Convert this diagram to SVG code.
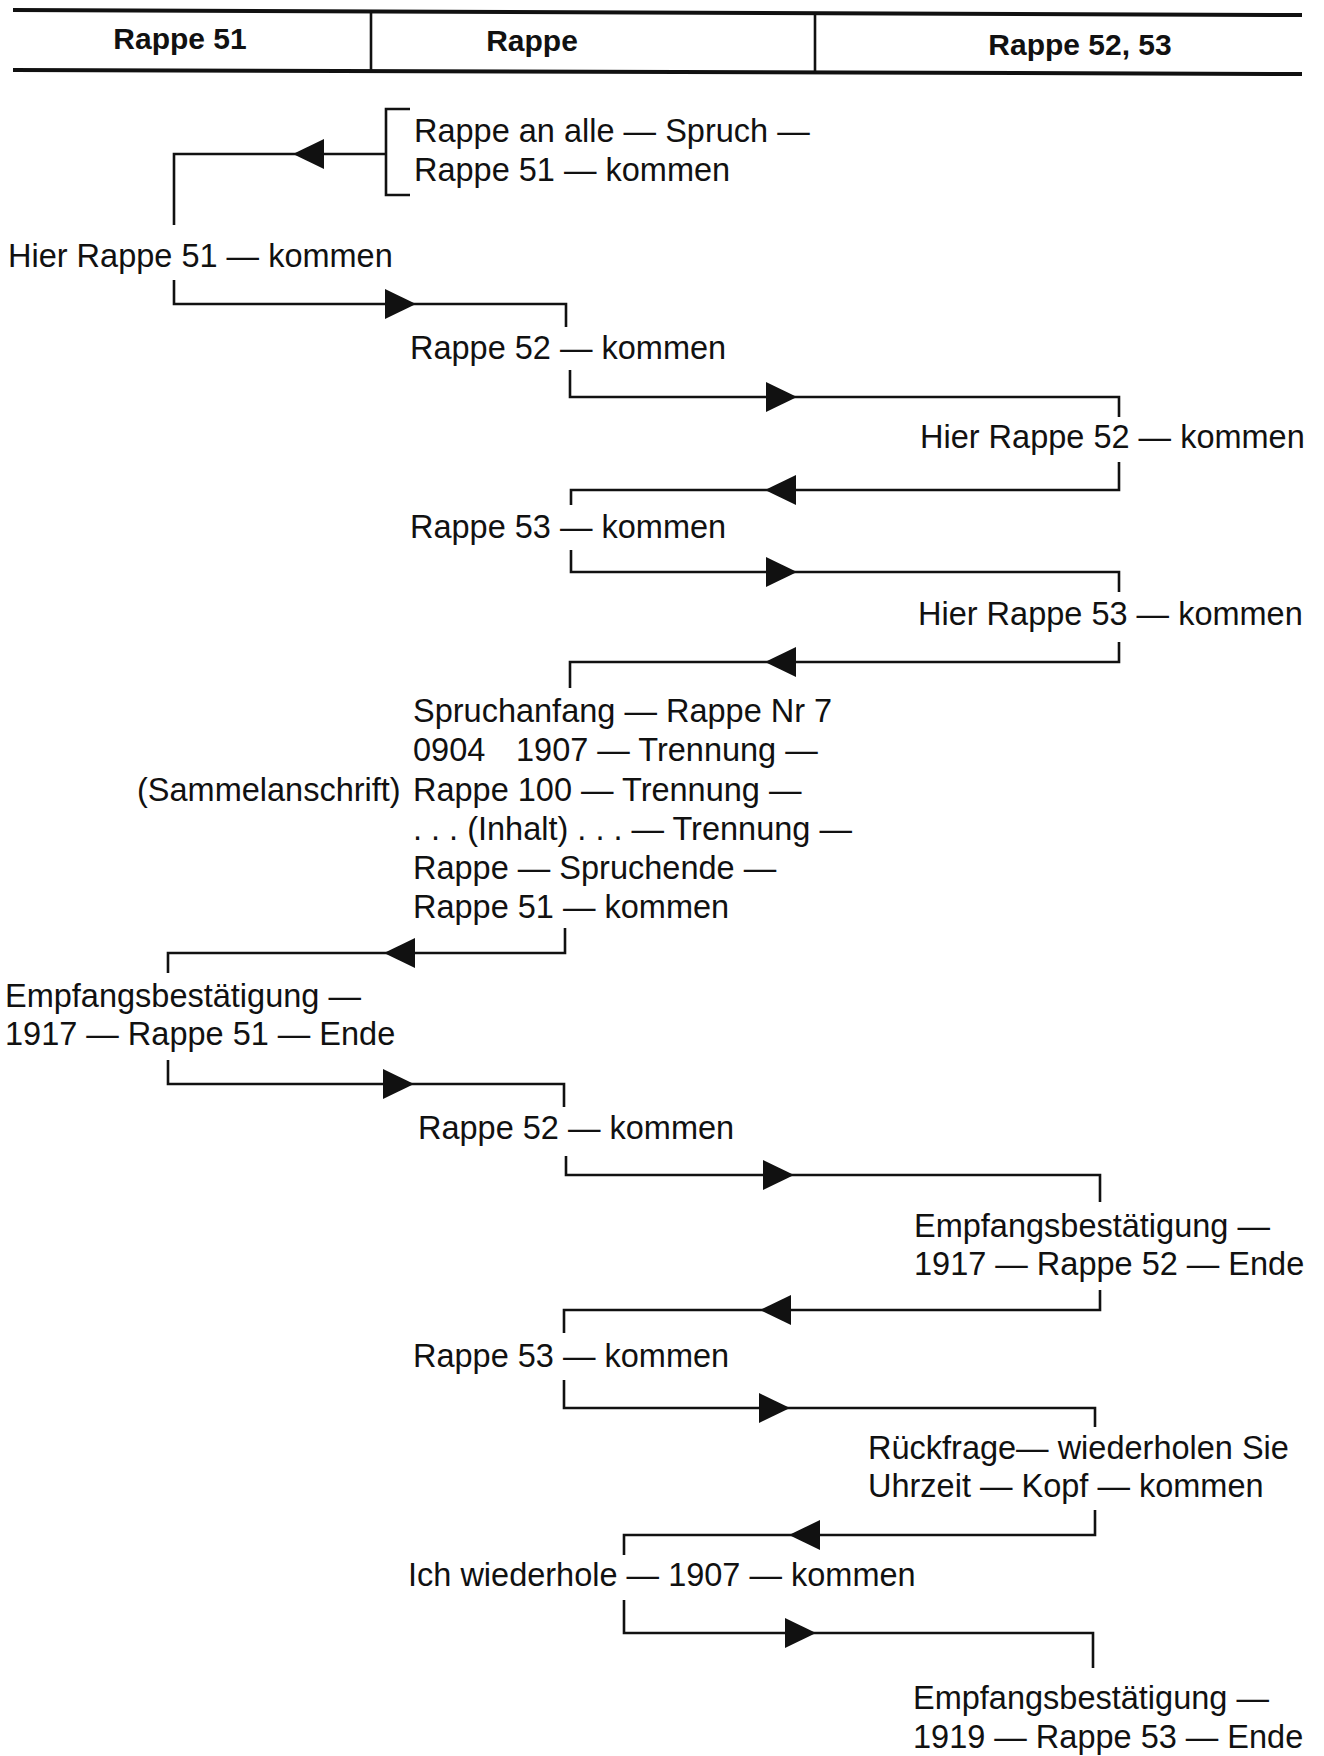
<svg xmlns="http://www.w3.org/2000/svg" xmlns:xlink="http://www.w3.org/1999/xlink" width="1324" height="1756" viewBox="0 0 1324 1756">
<style>
.t{font-family:"Liberation Sans",Arial,sans-serif;font-size:32.5px;fill:#111}
.h{font-family:"Liberation Sans",Arial,sans-serif;font-size:30px;font-weight:bold;fill:#111;text-anchor:middle}
.c{fill:none;stroke:#111;stroke-width:2.6}
.rule{stroke:#111;stroke-width:4}
.div{stroke:#111;stroke-width:2.6}
.ah{fill:#111}
</style>
<defs>
<path id="aR" d="M0,0 L-31,-15 L-31,15 Z"/>
<path id="aL" d="M0,0 L31,-15 L31,15 Z"/>
</defs>
<rect width="1324" height="1756" fill="#fff"/>
<g id="header">
<line class="rule" x1="13" y1="10" x2="1302" y2="15"/>
<line class="rule" x1="13" y1="70" x2="1302" y2="74"/>
<line class="div" x1="371" y1="11" x2="371" y2="71"/>
<line class="div" x1="815" y1="13" x2="815" y2="73"/>
<text class="h" x="180" y="49">Rappe 51</text>
<text class="h" x="532" y="51">Rappe</text>
<text class="h" x="1080" y="55">Rappe 52, 53</text>
</g>
<g id="connectors">
<path class="c" d="M410,109 H386 V195 H410"/>
<path class="c" d="M386,154 H174 V225"/>
<use class="ah" href="#aL" x="293" y="154"/>
<path class="c" d="M174,280 V304 H566 V327"/>
<use class="ah" href="#aR" x="416" y="304"/>
<path class="c" d="M570,370 V397 H1119 V417"/>
<use class="ah" href="#aR" x="797" y="397"/>
<path class="c" d="M1119,462 V490 H571 V505"/>
<use class="ah" href="#aL" x="765" y="490"/>
<path class="c" d="M571,550 V572 H1119 V592"/>
<use class="ah" href="#aR" x="797" y="572"/>
<path class="c" d="M1119,642 V662 H570 V688"/>
<use class="ah" href="#aL" x="765" y="662"/>
<path class="c" d="M565,928 V953 H168 V973"/>
<use class="ah" href="#aL" x="384" y="953"/>
<path class="c" d="M168,1060 V1084 H564 V1107"/>
<use class="ah" href="#aR" x="414" y="1084"/>
<path class="c" d="M566,1156 V1175 H1100 V1202"/>
<use class="ah" href="#aR" x="794" y="1175"/>
<path class="c" d="M1100,1290 V1310 H564 V1333"/>
<use class="ah" href="#aL" x="760" y="1310"/>
<path class="c" d="M564,1380 V1408 H1095 V1427"/>
<use class="ah" href="#aR" x="790" y="1408"/>
<path class="c" d="M1095,1510 V1535 H624 V1555"/>
<use class="ah" href="#aL" x="789" y="1535"/>
<path class="c" d="M624,1600 V1633 H1093 V1668"/>
<use class="ah" href="#aR" x="816" y="1633"/>
</g>
<g id="n1"><text class="t" x="414" y="142">Rappe an alle — Spruch —</text><text class="t" x="414" y="181">Rappe 51 — kommen</text></g>
<g id="n2"><text class="t" x="8" y="267">Hier Rappe 51 — kommen</text></g>
<g id="n3"><text class="t" x="410" y="359">Rappe 52 — kommen</text></g>
<g id="n4"><text class="t" x="920" y="448">Hier Rappe 52 — kommen</text></g>
<g id="n5"><text class="t" x="410" y="538">Rappe 53 — kommen</text></g>
<g id="n6"><text class="t" x="918" y="625">Hier Rappe 53 — kommen</text></g>
<g id="n7">
<text class="t" x="413" y="722">Spruchanfang — Rappe Nr 7</text>
<text class="t" x="413" y="761">0904<tspan x="516">1907 — Trennung —</tspan></text>
<text class="t" x="137" y="801">(Sammelanschrift)</text>
<text class="t" x="413" y="801">Rappe 100 — Trennung —</text>
<text class="t" x="413" y="840">. . . (Inhalt) . . . — Trennung —</text>
<text class="t" x="413" y="879">Rappe — Spruchende —</text>
<text class="t" x="413" y="918">Rappe 51 — kommen</text>
</g>
<g id="n8"><text class="t" x="5" y="1007">Empfangsbestätigung —</text><text class="t" x="5" y="1045">1917 — Rappe 51 — Ende</text></g>
<g id="n9"><text class="t" x="418" y="1139">Rappe 52 — kommen</text></g>
<g id="n10"><text class="t" x="914" y="1237">Empfangsbestätigung —</text><text class="t" x="914" y="1275">1917 — Rappe 52 — Ende</text></g>
<g id="n11"><text class="t" x="413" y="1367">Rappe 53 — kommen</text></g>
<g id="n12"><text class="t" x="868" y="1459">Rückfrage— wiederholen Sie</text><text class="t" x="868" y="1497">Uhrzeit — Kopf — kommen</text></g>
<g id="n13"><text class="t" x="408" y="1586">Ich wiederhole — 1907 — kommen</text></g>
<g id="n14"><text class="t" x="913" y="1709">Empfangsbestätigung —</text><text class="t" x="913" y="1748">1919 — Rappe 53 — Ende</text></g>
</svg>
